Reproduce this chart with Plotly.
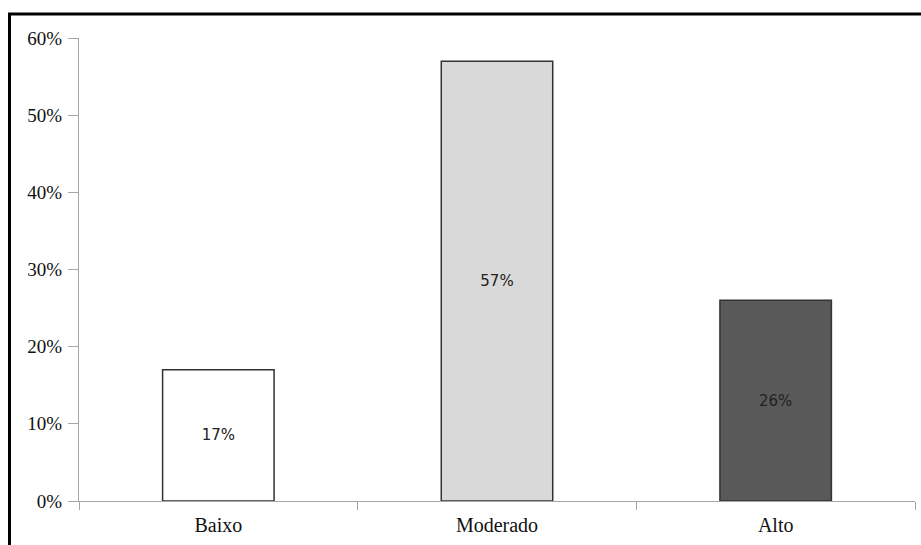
import plotly.graph_objects as go

categories = ["Baixo", "Moderado", "Alto"]
values = [17, 57, 26]
labels = ["17%", "57%", "26%"]
colors = ["#ffffff", "#d9d9d9", "#595959"]

W, H = 921, 545
L, R, T, B = 79, 6, 38, 44
pw, ph = W - L - R, H - T - B

fig = go.Figure()
fig.add_trace(go.Bar(
    x=categories, y=values, text=labels,
    textposition="inside", insidetextanchor="middle",
    textfont=dict(family="DejaVu Sans", size=15, color="#222222"),
    marker=dict(color=colors, line=dict(color="#333333", width=1.5)),
    width=0.4, cliponaxis=False,
))

def px_x(p):
    return (p - L) / pw

def px_y(p):
    return (H - B - p) / ph

fig.add_shape(type="rect", xref="paper", yref="paper",
              x0=px_x(9.5), x1=px_x(960), y0=px_y(580), y1=px_y(14),
              line=dict(color="black", width=3), fillcolor="rgba(0,0,0,0)")

fig.update_layout(
    width=W, height=H,
    margin=dict(l=L, r=R, t=T, b=B),
    paper_bgcolor="white", plot_bgcolor="white",
    showlegend=False,
    font=dict(family="Liberation Serif", size=19, color="#111111"),
)
fig.update_xaxes(
    type="category", range=[-0.5, 2.5],
    showline=True, linecolor="#a6a6a6", linewidth=1.3,
    ticks="outside", tickson="boundaries", ticklen=8, tickcolor="#a6a6a6", tickwidth=1.3,
    showgrid=False, zeroline=False, ticklabelstandoff=6,
    tickfont=dict(family="Liberation Serif", size=20, color="#111111"),
)
fig.update_yaxes(
    range=[0, 60], dtick=10, ticksuffix="%",
    showline=True, linecolor="#a6a6a6", linewidth=1.3,
    ticks="outside", ticklen=10, tickcolor="#a6a6a6", tickwidth=1.3,
    showgrid=False, zeroline=False, ticklabelstandoff=2,
    tickfont=dict(family="Liberation Serif", size=19, color="#111111"),
)

fig.write_html("out.html")
